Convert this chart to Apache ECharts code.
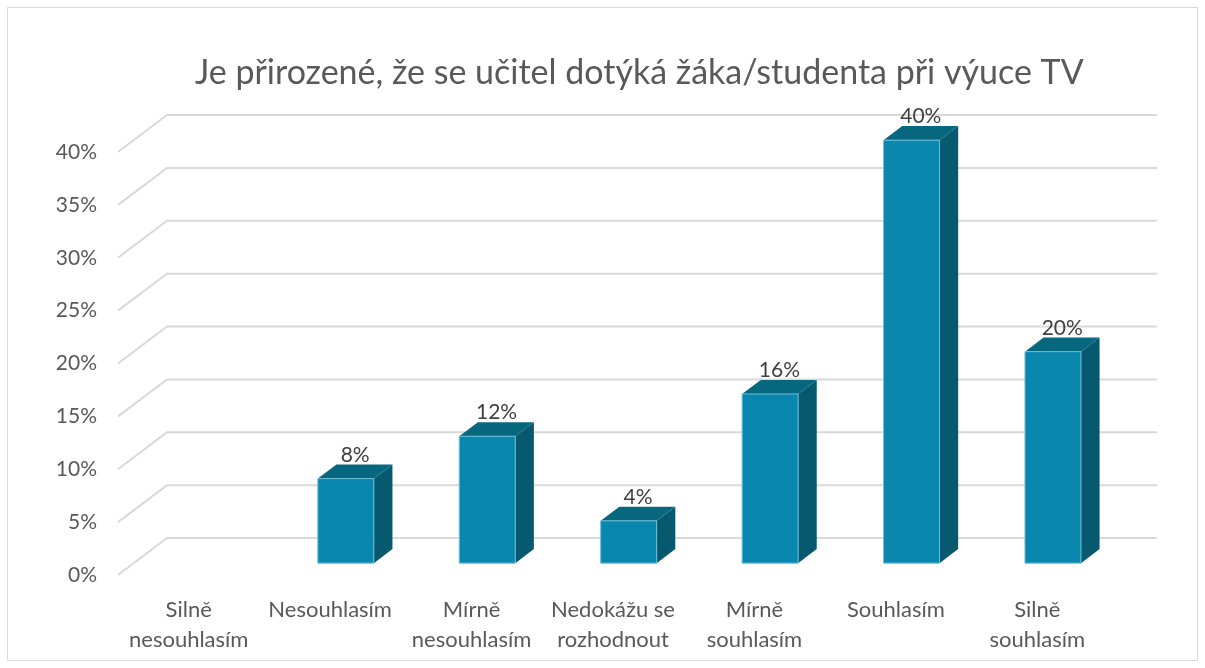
<!DOCTYPE html>
<html><head><meta charset="utf-8">
<script src="https://cdn.jsdelivr.net/npm/echarts@6/dist/echarts.min.js"></script>
<style>html,body{margin:0;padding:0;background:#fff}#c{width:1205px;height:668px}</style>
</head><body><div id="c"></div>
<script>
const title = 'Je přirozené, že se učitel dotýká žáka/studenta při výuce TV';
const categories = ['Silně\nnesouhlasím','Nesouhlasím','Mírně\nnesouhlasím','Nedokážu se\nrozhodnout','Mírně\nsouhlasím','Souhlasím','Silně\nsouhlasím'];
const values = [0, 8, 12, 4, 16, 40, 20];
const ticks = [0, 5, 10, 15, 20, 25, 30, 35, 40];

const DX = 49, DY = 37;      // depth projection of the plot
const T0 = 0.32, T1 = 0.70;  // bar depth span
const FONT = 'Lato';

const chart = echarts.init(document.getElementById('c'), null, {renderer:'canvas'});
chart.setOption({
  backgroundColor:'#fff',
  animation:false,
  title:{text:title,left:190,top:51,textStyle:{fontFamily:FONT,fontSize:34,fontWeight:'normal',color:'#595959'}},
  graphic:[{type:'rect',shape:{x:7.5,y:7.5,width:1190,height:653},style:{fill:'none',stroke:'#D9D9D9',lineWidth:1},silent:true,z:-10}],
  grid:{left:118,right:97,top:152,bottom:93},
  xAxis:{type:'category',data:categories,axisLine:{show:false},axisTick:{show:false},
    axisLabel:{interval:0,margin:20,fontFamily:FONT,fontSize:22,color:'#595959',lineHeight:30}},
  yAxis:{type:'value',min:0,max:40,interval:5,axisLine:{show:false},axisTick:{show:false},splitLine:{show:false},
    axisLabel:{margin:21,fontFamily:FONT,fontSize:21,color:'#595959',formatter:'{value}%'}},
  series:[
    {type:'custom',z:1,silent:true,data:ticks.map(v=>[0,v]),
     renderItem:function(params,api){
       const cs=params.coordSys;
       const y=api.coord([0,api.value(1)])[1];
       const xl=cs.x, xr=cs.x+cs.width;
       return {type:'polyline',shape:{points:[[xl,y],[xl+DX,y-DY],[xr+DX,y-DY]]},
         style:{stroke:'#D9D9D9',lineWidth:2,fill:null}};
     }},
    {type:'custom',z:5,data:values.map((v,i)=>[i,v]),
     renderItem:function(params,api){
       const cat=api.value(0), val=api.value(1);
       const p0=api.coord([cat,0]), p1=api.coord([cat,val]);
       const band=api.size([1,0])[0];
       const w=band*0.396;
       const fx=p0[0]+T0*DX-w/2, fy0=p0[1]-T0*DY, fy1=p1[1]-T0*DY;
       const ddx=(T1-T0)*DX, ddy=(T1-T0)*DY;
       const children=[];
       if(val>0){
         children.push({type:'polygon',shape:{points:[[fx+w,fy1],[fx+w+ddx,fy1-ddy],[fx+w+ddx,fy0-ddy],[fx+w,fy0]]},style:{fill:'#06596F'}});
         children.push({type:'polygon',shape:{points:[[fx,fy1],[fx+ddx,fy1-ddy],[fx+w+ddx,fy1-ddy],[fx+w,fy1]]},style:{fill:'#07677F'}});
         children.push({type:'rect',shape:{x:fx,y:fy1,width:w,height:fy0-fy1},style:{fill:'#0A87AF',stroke:'#6FC0DA',lineWidth:1}});
         const mx=p0[0]+(T0+T1)/2*DX, my=p1[1]-(T0+T1)/2*DY;
         children.push({type:'text',style:{text:val+'%',x:mx,y:my-6,textAlign:'center',textVerticalAlign:'bottom',
           fontFamily:FONT,fontSize:21,fill:'#404040'}});
       }
       return {type:'group',children:children};
     }}
  ]
});
</script></body></html>
